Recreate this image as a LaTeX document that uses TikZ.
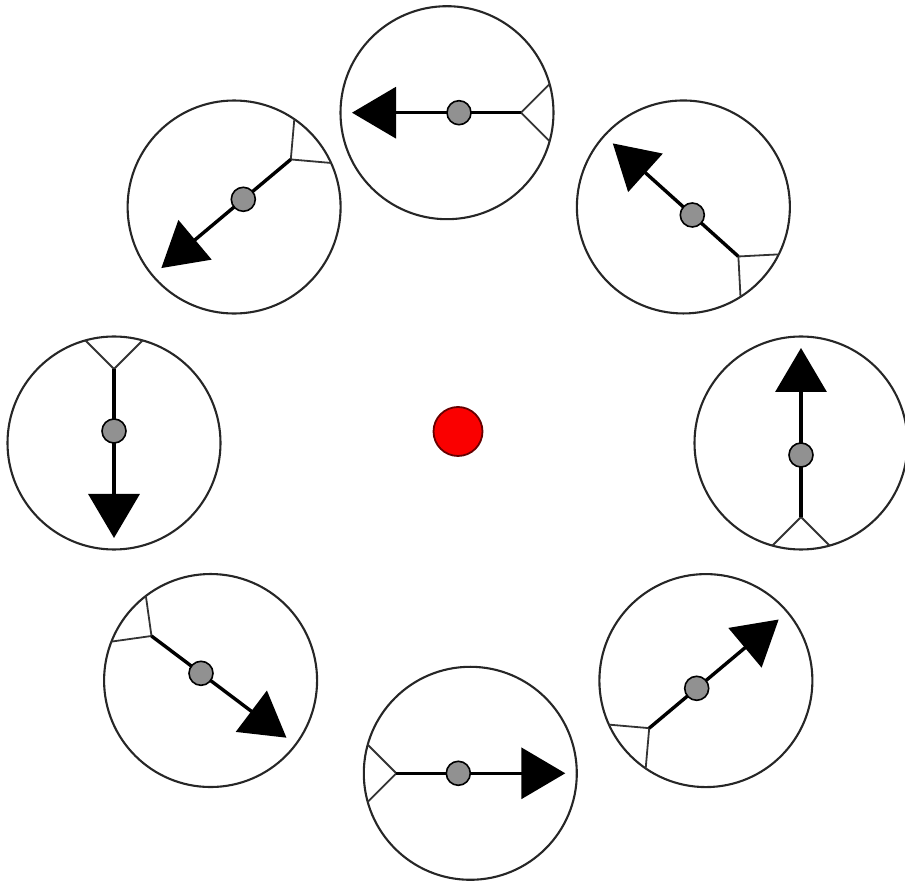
\documentclass[tikz,border=0pt]{standalone}
\usetikzlibrary{calc,arrows.meta}
\definecolor{dotgray}{RGB}{145,145,145}
\definecolor{hubred}{RGB}{250,0,0}
\begin{document}
\begin{tikzpicture}[x=1pt,y=1pt,
  ring/.style={circle,draw=black!85,line width=2.1pt,minimum size=213pt,inner sep=0pt},
  hub/.style={circle,draw=black,fill=dotgray,line width=1.6pt,minimum size=24pt,inner sep=0pt},
  axle/.style={line width=3.4pt,-{Triangle[length=44pt,width=51pt]}},
  forkline/.style={line width=1.8pt,draw=black!80},
  center dot/.style={circle,draw=black!60!red,fill=hubred,line width=1.8pt,minimum size=49pt,inner sep=0pt}]
\useasboundingbox (0,0) rectangle (905,881);
\node[center dot] (ctr) at (458,449.5) {};
\foreach \i/\x/\y/\a in {1/459/768.3/180, 2/692.3/666/138, 3/801/426/90, 4/696.7/192.7/40, 5/458.3/107.7/0, 6/201/207.7/-37, 7/114/450/-90, 8/243.3/681.7/-140} {
  \coordinate (d\i) at (\x,\y);
  \coordinate (c\i) at ($(d\i)+(\a:12)$);
  \coordinate (f\i) at ($(d\i)+(\a+180:62)$);
  \coordinate (t\i) at ($(d\i)+(\a:107)$);
  \coordinate (ua\i) at ($(f\i)+(\a+135:50)$);
  \coordinate (ub\i) at ($(f\i)+(\a-135:50)$);
  \node[ring] (r\i) at (c\i) {};
  \begin{scope}
    \clip (c\i) circle (106.5);
    \draw[forkline] (f\i) -- (ua\i);
    \draw[forkline] (f\i) -- (ub\i);
  \end{scope}
  \draw[axle] (f\i) -- (t\i);
  \node[hub] (h\i) at (d\i) {};
}
\end{tikzpicture}
\end{document}
